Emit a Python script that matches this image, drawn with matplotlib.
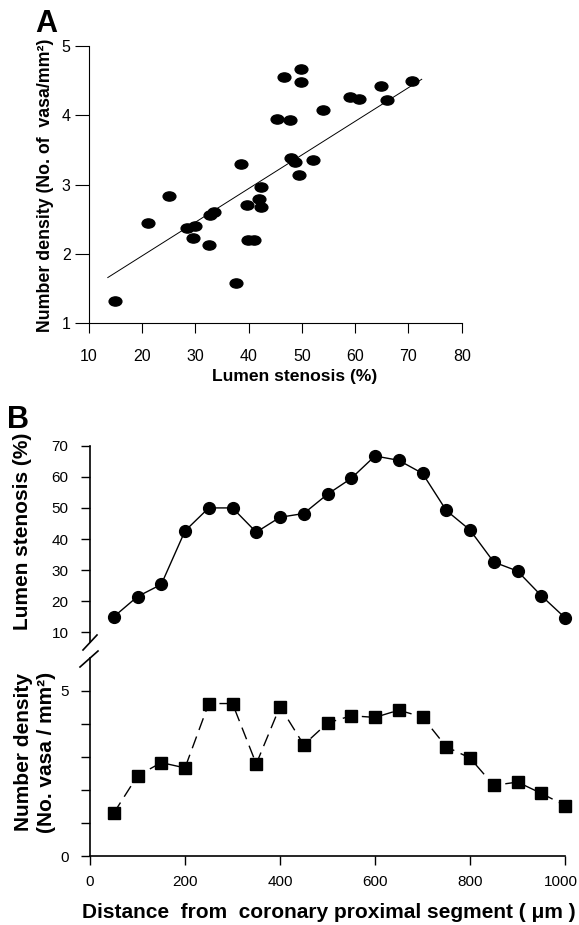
import matplotlib
matplotlib.use('Agg')
import matplotlib.pyplot as plt
from matplotlib.path import Path
from matplotlib.transforms import Affine2D, ScaledTranslation
from matplotlib.lines import Line2D

plt.rcParams['font.family'] = ['Liberation Sans', 'DejaVu Sans']

# panel A - vasa density against lumen stenosis
stenosis_a = [15.0, 21.2, 25.1, 28.5, 30.0, 29.5, 32.5, 32.8, 33.6, 37.6, 38.5,
              39.8, 39.9, 41.0, 42.0, 42.3, 42.4, 45.3, 46.6, 47.7, 48.0, 48.8,
              49.5, 49.8, 49.8, 52.1, 53.9, 59.1, 60.7, 64.9, 66.0, 70.6]
density_a = [1.32, 2.44, 2.84, 2.38, 2.41, 2.23, 2.13, 2.56, 2.61, 1.58, 3.30,
             2.70, 2.20, 2.20, 2.79, 2.68, 2.96, 3.95, 4.56, 3.93, 3.39, 3.32,
             3.14, 4.67, 4.48, 3.35, 4.07, 4.26, 4.23, 4.42, 4.22, 4.50]
fit_x = [13.6, 72.5]
fit_y = [1.66, 4.52]

# panel B - profiles along the segment
distance = [50, 100, 150, 200, 250, 300, 350, 400, 450, 500,
            550, 600, 650, 700, 750, 800, 850, 900, 950, 1000]
stenosis_b = [15.0, 21.5, 25.4, 42.6, 50.0, 50.0, 42.2, 47.0, 48.2, 54.4,
              59.5, 66.7, 65.3, 61.1, 49.2, 42.9, 32.6, 29.7, 21.8, 14.7]
density_b = [1.30, 2.43, 2.83, 2.67, 4.62, 4.62, 2.79, 4.53, 3.37, 4.03,
             4.25, 4.20, 4.42, 4.21, 3.31, 2.97, 2.14, 2.24, 1.90, 1.53]

W, H = 579, 925


def fx(px):
    return px / W


def fy(py):
    return 1 - py / H


fig = plt.figure(figsize=(W / 100, H / 100), dpi=100)

# ---------- A ----------
oval = Path.unit_circle().transformed(Affine2D().scale(1.0, 0.72))
axA = fig.add_axes([fx(88.6), fy(323.3), (461.7 - 88.6) / W, (323.3 - 46) / H])
axA.plot(fit_x, fit_y, color='black', lw=0.7)
axA.plot(stenosis_a, density_a, linestyle='none', marker=oval, ms=9.2,
         color='black', clip_on=False)
axA.set_xlim(10, 80)
axA.set_ylim(1, 5)
axA.set_xticks(range(10, 81, 10))
axA.set_yticks([1, 2, 3, 4, 5])
for s in ['top', 'right']:
    axA.spines[s].set_visible(False)
for s in ['left', 'bottom']:
    axA.spines[s].set_linewidth(0.8)
axA.tick_params(axis='x', direction='out', length=7.5, width=0.8, pad=11, labelsize=11.5)
axA.tick_params(axis='y', direction='out', length=10, width=0.8, pad=3, labelsize=11.5)

fig.text(fx(35), fy(32), 'A', fontsize=22, fontweight='bold', ha='left', va='baseline')
fig.text(fx(46), fy(185), 'Number density (No. of  vasa/mm\u00b2)', rotation=90,
         ha='center', va='center', fontsize=12.8, fontweight='bold')
fig.text(fx(294.5), fy(376.7), 'Lumen stenosis (%)', ha='center', va='center',
         fontsize=12.6, fontweight='bold')

# ---------- B upper ----------
axU = fig.add_axes([fx(90), fy(642), (565 - 90) / W, (642 - 445.7) / H])
axU.plot(distance, stenosis_b, color='black', lw=1.0, marker='o', ms=8.5,
         clip_on=False)
axU.set_xlim(0, 1000)
axU.set_ylim(6.9, 70)
axU.set_yticks(range(10, 71, 10))
for s in ['top', 'right', 'bottom']:
    axU.spines[s].set_visible(False)
axU.spines['left'].set_linewidth(1.2)
axU.set_xticks([])
axU.tick_params(axis='y', direction='out', length=6.5, width=1.0, pad=9, labelsize=11)

# ---------- B lower ----------
axL = fig.add_axes([fx(90), fy(856), (565 - 90) / W, (856 - 658) / H])
axL.plot(distance, density_b, color='black', lw=1.0, marker='s', ms=8,
         linestyle=(0, (9, 5)), clip_on=False)
axL.set_xlim(0, 1000)
axL.set_ylim(0, 6.0)
axL.set_yticks([0, 1, 2, 3, 4, 5])
axL.set_yticklabels(['0', '', '', '', '', '5'])
axL.set_xticks(range(0, 1001, 200))
for s in ['top', 'right']:
    axL.spines[s].set_visible(False)
for s in ['left', 'bottom']:
    axL.spines[s].set_linewidth(1.2)
axL.tick_params(axis='y', direction='out', length=6.5, width=1.0, pad=9, labelsize=11)
axL.tick_params(axis='x', direction='out', length=6.5, width=1.0, pad=7, labelsize=11)
# keep the last label inside the figure edge
last = axL.get_xticklabels()[-1]
last.set_transform(last.get_transform() + ScaledTranslation(-3 / 72, 0, fig.dpi_scale_trans))

# axis break marks
fig.add_artist(Line2D([fx(83), fx(97)], [fy(650), fy(635)], color='black', lw=1.2))
fig.add_artist(Line2D([fx(80), fx(98)], [fy(667), fy(651)], color='black', lw=1.2))

fig.text(fx(7.4), fy(428), 'B', fontsize=22, fontweight='bold', ha='left', va='baseline')
fig.text(fx(23), fy(531), 'Lumen stenosis (%)', rotation=90, ha='center', va='center',
         fontsize=15, fontweight='bold')
fig.text(fx(23.5), fy(752), 'Number density', rotation=90, ha='center', va='center',
         fontsize=15, fontweight='bold')
fig.text(fx(47), fy(752), '(No. vasa / mm\u00b2)', rotation=90, ha='center', va='center',
         fontsize=15, fontweight='bold')
fig.text(fx(329), fy(912.7), 'Distance  from  coronary proximal segment ( \u03bcm )',
         ha='center', va='center', fontsize=15, fontweight='bold')

fig.savefig('out.png', dpi=100)
